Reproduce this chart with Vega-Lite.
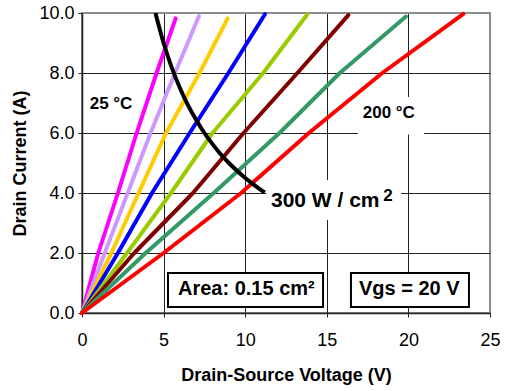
{
  "$schema": "https://vega.github.io/schema/vega-lite/v6.json",
  "width": 408,
  "height": 300,
  "autosize": "none",
  "padding": {"left": 82, "top": 13, "right": 16, "bottom": 78},
  "background": "white",
  "config": {
    "font": "Liberation Sans",
    "view": {"stroke": "#8c8c8c", "strokeWidth": 2},
    "axis": {
      "labelFont": "Liberation Sans",
      "labelFontSize": 18,
      "labelColor": "#000",
      "labelFlush": false,
      "titleFont": "Liberation Sans",
      "titleFontSize": 18,
      "titleFontWeight": "bold",
      "titleColor": "#000",
      "domainColor": "#222",
      "domainWidth": 1.5,
      "tickColor": "#222",
      "tickSize": 4,
      "gridWidth": 1
    }
  },
  "datasets": {
    "curves": [
      {"series": "s1", "V": 0, "I": 0}, {"series": "s1", "V": 1.0, "I": 2}, {"series": "s1", "V": 2.2, "I": 4}, {"series": "s1", "V": 3.35, "I": 6}, {"series": "s1", "V": 4.57, "I": 8}, {"series": "s1", "V": 5.74, "I": 9.82},
      {"series": "s2", "V": 0, "I": 0}, {"series": "s2", "V": 1.39, "I": 2}, {"series": "s2", "V": 2.8, "I": 4}, {"series": "s2", "V": 4.2, "I": 6}, {"series": "s2", "V": 5.7, "I": 8}, {"series": "s2", "V": 7.17, "I": 9.9},
      {"series": "s3", "V": 0, "I": 0}, {"series": "s3", "V": 1.8, "I": 2}, {"series": "s3", "V": 3.47, "I": 4}, {"series": "s3", "V": 5.15, "I": 6}, {"series": "s3", "V": 7.2, "I": 8}, {"series": "s3", "V": 8.93, "I": 9.82},
      {"series": "s4", "V": 0, "I": 0}, {"series": "s4", "V": 2.2, "I": 2}, {"series": "s4", "V": 4.29, "I": 4}, {"series": "s4", "V": 6.6, "I": 6}, {"series": "s4", "V": 8.97, "I": 8}, {"series": "s4", "V": 11.21, "I": 9.96},
      {"series": "s5", "V": 0, "I": 0}, {"series": "s5", "V": 2.76, "I": 2}, {"series": "s5", "V": 5.45, "I": 4}, {"series": "s5", "V": 8.0, "I": 6}, {"series": "s5", "V": 11.1, "I": 8}, {"series": "s5", "V": 13.81, "I": 9.96},
      {"series": "s6", "V": 0, "I": 0}, {"series": "s6", "V": 3.2, "I": 2}, {"series": "s6", "V": 6.8, "I": 4}, {"series": "s6", "V": 9.9, "I": 6}, {"series": "s6", "V": 13.2, "I": 8}, {"series": "s6", "V": 16.32, "I": 9.93},
      {"series": "s7", "V": 0, "I": 0}, {"series": "s7", "V": 3.9, "I": 2}, {"series": "s7", "V": 8.07, "I": 4}, {"series": "s7", "V": 12.1, "I": 6}, {"series": "s7", "V": 15.8, "I": 8}, {"series": "s7", "V": 19.85, "I": 9.88},
      {"series": "s8", "V": 0, "I": 0}, {"series": "s8", "V": 5.0, "I": 2}, {"series": "s8", "V": 9.75, "I": 4}, {"series": "s8", "V": 13.9, "I": 6}, {"series": "s8", "V": 18.4, "I": 8}, {"series": "s8", "V": 23.37, "I": 9.97}
    ],
    "power": [
      {"V": 4.5, "I": 10}, {"V": 5, "I": 9}, {"V": 5.5, "I": 8.18}, {"V": 6, "I": 7.5}, {"V": 6.5, "I": 6.92}, {"V": 7, "I": 6.43}, {"V": 7.5, "I": 6}, {"V": 8, "I": 5.63}, {"V": 8.5, "I": 5.29}, {"V": 9, "I": 5}, {"V": 9.5, "I": 4.74}, {"V": 10, "I": 4.5}, {"V": 10.5, "I": 4.29}, {"V": 11, "I": 4.09}, {"V": 11.2, "I": 4.02}
    ]
  },
  "encoding": {
    "x": {
      "field": "V", "type": "quantitative",
      "scale": {"domain": [0, 25], "nice": false, "zero": false},
      "axis": {
        "title": "Drain-Source Voltage (V)",
        "values": [0, 5, 10, 15, 20, 25],
        "labelPadding": 14,
        "titlePadding": 17,
        "gridColor": {"condition": {"test": "datum.value == 25", "value": "#8c8c8c"}, "value": "#222"}
      }
    },
    "y": {
      "field": "I", "type": "quantitative",
      "scale": {"domain": [0, 10], "nice": false, "zero": false},
      "axis": {
        "title": "Drain Current (A)",
        "values": [0, 2, 4, 6, 8, 10],
        "format": ".1f",
        "labelPadding": 4,
        "titlePadding": 9,
        "gridColor": {"condition": {"test": "datum.value == 10", "value": "#8c8c8c"}, "value": "#222"}
      }
    }
  },
  "layer": [
    {
      "data": {"values": [
        {"V": 16.9, "V2": 20.96, "I": 5.95, "I2": 7.2},
        {"V": 11.3, "V2": 19.55, "I": 3.1, "I2": 4.43}
      ]},
      "mark": {"type": "rect", "fill": "white", "stroke": null},
      "encoding": {"x2": {"field": "V2"}, "y2": {"field": "I2"}}
    },
    {
      "data": {"name": "curves"},
      "mark": {"type": "line", "strokeWidth": 4, "strokeJoin": "round", "strokeCap": "round"},
      "encoding": {
        "color": {
          "field": "series", "type": "nominal", "legend": null,
          "scale": {
            "domain": ["s1", "s2", "s3", "s4", "s5", "s6", "s7", "s8"],
            "range": ["#ff00ff", "#cc99ff", "#ffcc00", "#0000ff", "#99cc00", "#800000", "#339966", "#ff0000"]
          }
        },
        "detail": {"field": "series"},
        "order": {"field": "V", "type": "quantitative"}
      }
    },
    {
      "data": {"name": "power"},
      "mark": {"type": "line", "strokeWidth": 4, "color": "#000", "interpolate": "monotone", "clip": true},
      "encoding": {"order": {"field": "V", "type": "quantitative"}}
    },
    {
      "data": {"values": [
        {"V": 1.78, "I": 6.97, "label": "25 °C"},
        {"V": 18.8, "I": 6.67, "label": "200 °C"}
      ]},
      "mark": {"type": "text", "font": "Liberation Sans", "fontSize": 17, "fontWeight": "bold", "color": "#000", "align": "center", "baseline": "middle"},
      "encoding": {"text": {"field": "label"}}
    },
    {
      "data": {"values": [{"V": 11.58, "I": 3.74, "label": "300 W / cm"}]},
      "mark": {"type": "text", "font": "Liberation Sans", "fontSize": 21, "fontWeight": "bold", "color": "#000", "align": "left", "baseline": "middle"},
      "encoding": {"text": {"field": "label"}}
    },
    {
      "data": {"values": [{"V": 18.75, "I": 3.9, "label": "2"}]},
      "mark": {"type": "text", "font": "Liberation Sans", "fontSize": 17, "fontWeight": "bold", "color": "#000", "align": "center", "baseline": "middle"},
      "encoding": {"text": {"field": "label"}}
    },
    {
      "data": {"values": [
        {"V": 5.27, "V2": 14.77, "I": 0.2, "I2": 1.33},
        {"V": 16.48, "V2": 23.71, "I": 0.2, "I2": 1.33}
      ]},
      "mark": {"type": "rect", "fill": "white", "stroke": "#000", "strokeWidth": 2},
      "encoding": {"x2": {"field": "V2"}, "y2": {"field": "I2"}}
    },
    {
      "data": {"values": [
        {"V": 10.07, "I": 0.8, "label": "Area: 0.15 cm²"},
        {"V": 20.05, "I": 0.8, "label": "Vgs = 20 V"}
      ]},
      "mark": {"type": "text", "font": "Liberation Sans", "fontSize": 20, "fontWeight": "bold", "color": "#000", "align": "center", "baseline": "middle"},
      "encoding": {"text": {"field": "label"}}
    }
  ]
}
